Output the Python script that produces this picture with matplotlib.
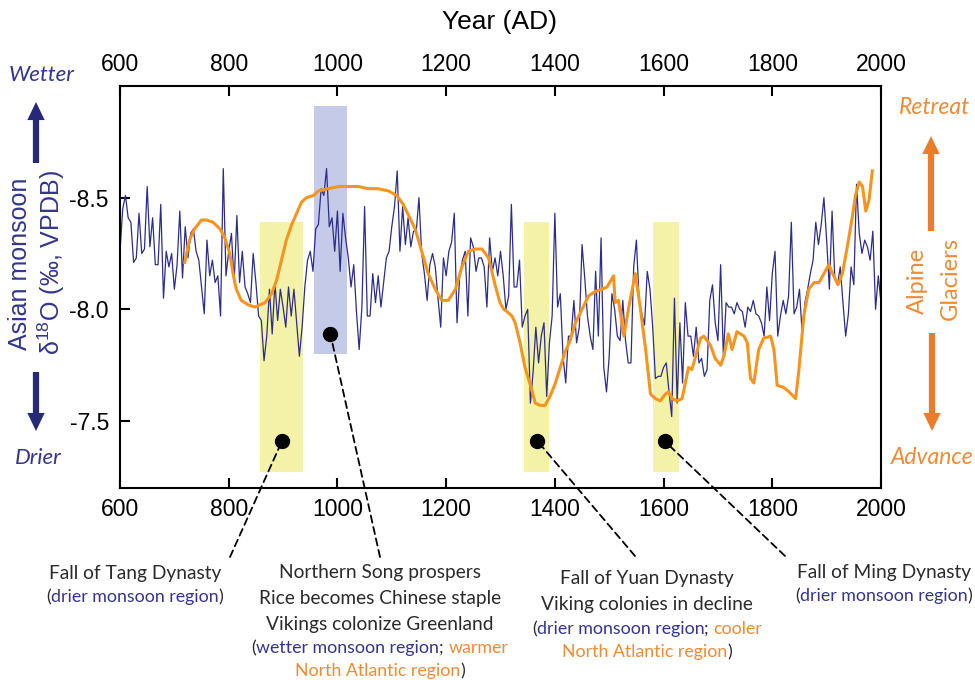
import numpy as np
import matplotlib
matplotlib.use("Agg")
import matplotlib.pyplot as plt
from matplotlib.patches import FancyArrowPatch

# Asian monsoon d18O record (5-year steps from 600 AD)
d18o = [
    -8.26, -8.45, -8.51, -8.41, -8.39, -8.21, -8.23, -8.43, -8.25, -8.27,
    -8.55, -8.28, -8.41, -8.20, -8.20, -8.47, -8.05, -8.26, -8.19, -8.25,
    -8.09, -8.20, -8.44, -8.14, -8.37, -8.23, -8.34, -8.36, -8.26, -8.22,
    -8.10, -7.98, -8.31, -8.15, -8.22, -8.12, -8.15, -7.97, -8.63, -8.15,
    -8.26, -8.34, -8.12, -8.42, -8.12, -8.26, -8.10, -8.07, -8.03, -8.25,
    -8.12, -7.97, -7.95, -7.77, -7.88, -8.09, -7.89, -8.12, -7.95, -8.09,
    -8.01, -7.92, -8.10, -7.97, -8.09, -7.94, -7.79, -7.92, -8.10, -8.22,
    -8.26, -8.17, -8.36, -8.38, -8.54, -8.51, -8.63, -8.37, -8.41, -8.26,
    -8.44, -8.17, -8.43, -8.32, -8.23, -8.10, -8.20, -7.99, -7.82, -8.01,
    -8.46, -7.97, -7.97, -8.16, -8.03, -8.15, -8.01, -8.12, -8.23, -8.26,
    -8.37, -8.46, -8.62, -8.26, -8.46, -8.29, -8.41, -8.28, -8.35, -8.35,
    -8.50, -8.25, -8.16, -8.04, -8.20, -8.25, -8.19, -8.05, -7.92, -8.23,
    -8.15, -8.26, -8.30, -8.43, -7.94, -8.15, -8.22, -8.26, -7.97, -8.32,
    -8.28, -8.17, -8.23, -8.23, -8.19, -8.01, -8.32, -8.17, -8.23, -8.15,
    -8.26, -8.15, -8.00, -8.06, -8.47, -8.10, -8.10, -8.22, -7.92, -7.97,
    -8.00, -7.58, -7.72, -7.92, -7.76, -7.88, -7.94, -7.61, -7.85, -7.97,
    -8.43, -8.01, -8.07, -7.79, -7.67, -7.88, -7.88, -8.04, -7.85, -7.92,
    -8.29, -8.14, -7.97, -7.88, -7.82, -8.17, -7.88, -8.32, -7.74, -7.63,
    -7.79, -8.07, -8.00, -7.88, -7.86, -8.04, -7.86, -7.76, -7.76, -8.19,
    -8.31, -8.04, -7.98, -7.93, -8.17, -8.09, -7.92, -7.69, -7.70, -7.70,
    -7.74, -7.76, -7.63, -7.52, -8.05, -7.58, -7.94, -7.67, -8.03, -7.88,
    -7.88, -7.79, -7.92, -7.76, -7.78, -7.70, -7.73, -8.04, -8.11, -7.94,
    -7.86, -8.20, -7.79, -8.03, -8.01, -8.01, -7.98, -8.03, -8.00, -7.99,
    -7.92, -8.01, -7.99, -8.04, -7.98, -7.97, -7.94, -7.88, -8.10, -7.95,
    -8.16, -8.26, -7.88, -7.97, -8.04, -7.98, -8.06, -8.39, -7.98, -8.01,
    -8.09, -7.89, -8.03, -8.09, -8.16, -8.22, -8.39, -8.29, -8.38, -8.50,
    -8.31, -8.09, -8.44, -8.14, -8.11, -8.19, -8.03, -7.88, -7.98, -8.19,
    -8.11, -8.56, -8.34, -8.25, -8.31, -8.28, -8.22, -8.35, -8.00, -8.15, -8.03,
]
years = 600 + 5 * np.arange(len(d18o))

# Alpine glacier curve, drawn in the monsoon axis units
glacier_years = [719, 728, 737, 750, 759, 771, 784, 793, 802, 808, 814, 823, 836, 848,
                 857, 867, 879, 888, 897, 906, 916, 925, 934, 943, 956, 965, 983, 1002,
                 1020, 1038, 1057, 1075, 1094, 1109, 1121, 1131, 1143, 1155, 1167, 1180,
                 1192, 1204, 1217, 1229, 1241, 1253, 1266, 1278, 1290, 1299, 1306, 1312,
                 1321, 1327, 1336, 1345, 1355, 1364, 1373, 1382, 1391, 1401, 1410, 1419,
                 1428, 1438, 1450, 1462, 1474, 1487, 1496, 1508, 1511, 1517, 1527, 1536,
                 1548, 1557, 1567, 1576, 1585, 1594, 1603, 1609, 1616, 1625, 1634, 1640,
                 1646, 1652, 1659, 1668, 1674, 1686, 1695, 1705, 1711, 1719, 1726, 1735,
                 1748, 1754, 1760, 1766, 1775, 1784, 1797, 1803, 1809, 1821, 1831, 1843,
                 1849, 1858, 1867, 1877, 1886, 1895, 1904, 1913, 1921, 1929, 1938, 1947,
                 1953, 1960, 1966, 1972, 1978, 1984]
glacier_scaled = [-8.21, -8.31, -8.36, -8.40, -8.40, -8.39, -8.36, -8.32, -8.25, -8.16,
                  -8.09, -8.04, -8.02, -8.01, -8.02, -8.03, -8.07, -8.13, -8.22, -8.31,
                  -8.38, -8.43, -8.48, -8.50, -8.51, -8.53, -8.54, -8.55, -8.55, -8.55,
                  -8.54, -8.54, -8.53, -8.51, -8.47, -8.42, -8.36, -8.26, -8.16, -8.09,
                  -8.04, -8.04, -8.09, -8.19, -8.26, -8.27, -8.27, -8.23, -8.11, -8.03,
                  -8.00, -7.99, -7.97, -7.94, -7.85, -7.74, -7.66, -7.58, -7.57, -7.57,
                  -7.61, -7.67, -7.74, -7.81, -7.86, -7.94, -8.00, -8.06, -8.08, -8.09,
                  -8.10, -8.15, -8.03, -8.04, -7.88, -8.01, -8.16, -8.01, -7.82, -7.62,
                  -7.60, -7.59, -7.62, -7.63, -7.60, -7.59, -7.60, -7.67, -7.74, -7.73,
                  -7.79, -7.87, -7.88, -7.84, -7.78, -7.75, -7.79, -7.89, -7.82, -7.90,
                  -7.88, -7.85, -7.69, -7.67, -7.82, -7.87, -7.88, -7.82, -7.66, -7.65,
                  -7.63, -7.60, -7.73, -7.97, -8.09, -8.12, -8.12, -8.16, -8.20, -8.15,
                  -8.11, -8.16, -8.28, -8.41, -8.51, -8.57, -8.55, -8.44, -8.49, -8.62]

# shaded periods
band_start = [858, 957, 1343, 1580]
band_end = [936, 1017, 1390, 1628]
band_top = [-8.39, -8.91, -8.39, -8.39]
band_bottom = [-7.27, -7.80, -7.27, -7.27]
band_color = ["#f4f2a8", "#c4cae8", "#f4f2a8", "#f4f2a8"]

# events
event_years = [898, 987, 1368, 1602]
event_vals = [-7.41, -7.89, -7.41, -7.41]

BLUE = "#2b2d8c"
BLUE_TXT = "#33358f"
ORANGE = "#f7941d"
ORANGE_TXT = "#f08a35"
DARK = "#2a2a2a"

plt.rcParams["font.family"] = ["Liberation Sans", "DejaVu Sans"]
plt.rcParams["axes.unicode_minus"] = False
plt.rcParams["mathtext.fontset"] = "custom"
plt.rcParams["mathtext.rm"] = "Liberation Sans"
plt.rcParams["mathtext.it"] = "Liberation Sans:italic"

W, H = 975, 680
fig = plt.figure(figsize=(W / 100, H / 100), dpi=100)
ax = fig.add_axes([120 / W, 1 - 488 / H, 761 / W, 402 / H])


def fx(px):
    return px / W


def fy(py):
    return 1 - py / H


for x0, x1, y0, y1, c in zip(band_start, band_end, band_top, band_bottom, band_color):
    ax.fill_between([x0, x1], y0, y1, color=c, lw=0, zorder=1)

ax.plot(years, d18o, color=BLUE, lw=0.9, zorder=2)
ax.plot(glacier_years, glacier_scaled, color=ORANGE, lw=2.2, zorder=3)
ax.plot(event_years, event_vals, "o", color="black", ms=10, zorder=5)

ax.set_xlim(600, 2000)
ax.set_ylim(-7.2, -9.0)
ax.set_xticks(range(600, 2001, 200))
ax.set_yticks([-8.5, -8.0, -7.5])
ax.yaxis.set_major_formatter("{x:.1f}")
ax.tick_params(direction="in", length=7, width=1.5, labelsize=16.5, pad=8,
               top=True, labeltop=True, right=False)
ax.tick_params(axis="x", which="both", pad=7)
for s in ax.spines.values():
    s.set_linewidth(1.5)

# dashed leaders from dots to labels
label_anchor = [(230, 557), (380, 557), (635, 556), (785, 556)]
for ex, ev, (tx, ty) in zip(event_years, event_vals, label_anchor):
    ax.annotate("", xy=(ex, ev), xycoords="data", xytext=(fx(tx), fy(ty)),
                textcoords="figure fraction", annotation_clip=False,
                arrowprops=dict(arrowstyle="-", color="black", lw=1.3,
                                linestyle=(0, (4, 2.5)), shrinkA=0, shrinkB=0))

fig.text(fx(500), fy(22), "Year (AD)", fontsize=19, ha="center", va="center")
fig.text(fx(20), fy(264), "Asian monsoon", fontsize=18, color=BLUE_TXT,
         rotation=90, ha="center", va="center")
fig.text(fx(51), fy(263), r"δ$^{18}$O (‰, VPDB)", fontsize=18, color=BLUE_TXT,
         rotation=90, ha="center", va="center")

HUM = ["Lato", "DejaVu Sans"]
fig.text(fx(42), fy(75), "Wetter", fontsize=16, style="italic", family=HUM,
         color=BLUE_TXT, ha="center", va="center")
fig.text(fx(38), fy(458), "Drier", fontsize=16, style="italic", family=HUM,
         color=BLUE_TXT, ha="center", va="center")
fig.text(fx(935), fy(108), "Retreat", fontsize=16.5, style="italic", family=HUM,
         color=ORANGE_TXT, ha="center", va="center")
fig.text(fx(932), fy(457), "Advance", fontsize=16.5, style="italic", family=HUM,
         color=ORANGE_TXT, ha="center", va="center")
fig.text(fx(917), fy(281), "Alpine", fontsize=17, family=HUM, color=ORANGE_TXT,
         rotation=90, ha="center", va="center")
fig.text(fx(950), fy(279), "Glaciers", fontsize=17, family=HUM, color=ORANGE_TXT,
         rotation=90, ha="center", va="center")

arrow_style = "simple,head_width=1.25,head_length=1.3,tail_width=0.45"
for (x0, y0), (x1, y1), c in [((36, 163), (36, 102), "#262977"),
                              ((36, 372), (36, 431), "#262977"),
                              ((931, 231), (931, 136), "#e97d2c"),
                              ((932, 333), (932, 431), "#e97d2c")]:
    fig.add_artist(FancyArrowPatch((fx(x0), fy(y0)), (fx(x1), fy(y1)),
                                   transform=fig.transFigure, arrowstyle=arrow_style,
                                   mutation_scale=10, color=c, lw=0,
                                   shrinkA=0, shrinkB=0))

# event labels with mixed colours
renderer = fig.canvas.get_renderer()


def rich(cx, base, pieces, size):
    kw = dict(fontsize=size, family=HUM, va="baseline", ha="left")

    def width(s):
        t = fig.text(0, 0, s, **kw)
        w = t.get_window_extent(renderer).width
        t.remove()
        return w

    total = width("".join(p for p, _ in pieces))
    x0 = cx - total / 2
    prefix = ""
    for s, c in pieces:
        off = width(prefix + s) - width(s) if prefix else 0
        fig.text(fx(x0 + off), fy(base), s, color=c, **kw)
        prefix += s


MAIN, SUB = 13.8, 12.8
rich(135, 579, [("Fall of Tang Dynasty", DARK)], MAIN)
rich(135, 602, [("(", DARK), ("drier monsoon region", BLUE_TXT), (")", DARK)], SUB)

rich(380, 578, [("Northern Song prospers", DARK)], MAIN)
rich(380, 604, [("Rice becomes Chinese staple", DARK)], MAIN)
rich(380, 630, [("Vikings colonize Greenland", DARK)], MAIN)
rich(380, 653, [("(", DARK), ("wetter monsoon region", BLUE_TXT), ("; ", DARK),
                ("warmer", ORANGE_TXT)], SUB)
rich(380, 676, [("North Atlantic region", ORANGE_TXT), (")", DARK)], SUB)

rich(647, 584, [("Fall of Yuan Dynasty", DARK)], MAIN)
rich(647, 610, [("Viking colonies in decline", DARK)], MAIN)
rich(647, 634, [("(", DARK), ("drier monsoon region", BLUE_TXT), ("; ", DARK),
                ("cooler", ORANGE_TXT)], SUB)
rich(647, 657, [("North Atlantic region", ORANGE_TXT), (")", DARK)], SUB)

rich(884, 578, [("Fall of Ming Dynasty", DARK)], MAIN)
rich(884, 601, [("(", DARK), ("drier monsoon region", BLUE_TXT), (")", DARK)], SUB)

fig.savefig("out.png", dpi=100)
